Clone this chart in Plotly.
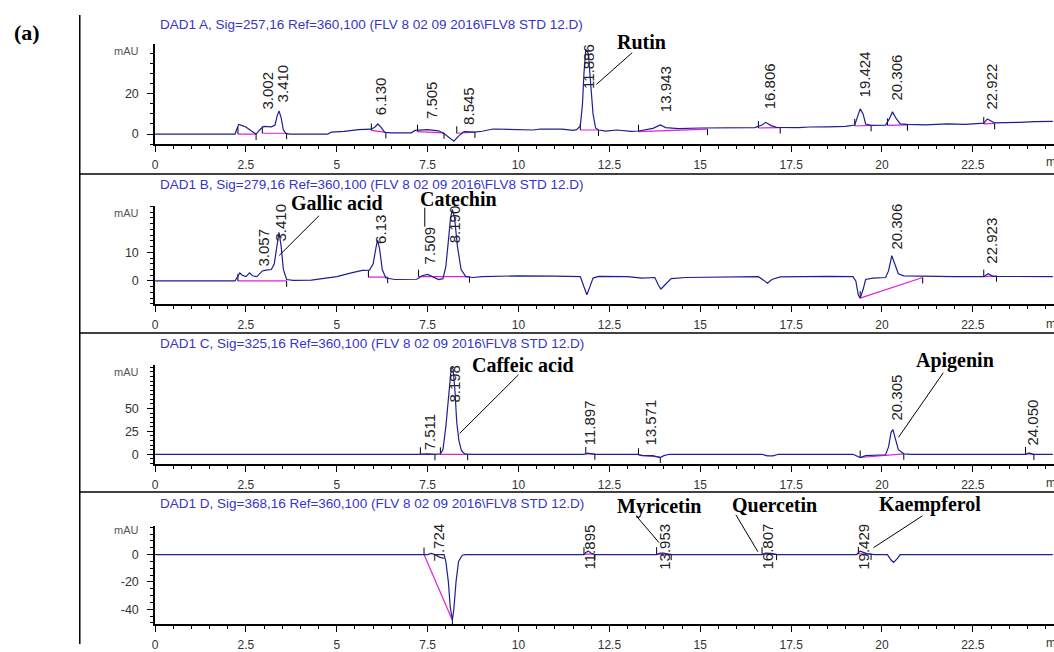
import plotly.graph_objects as go

# ---------------- DATA ----------------
# Channel A, 257 nm
tA = [0, 2.20, 2.25, 2.30, 2.40, 2.50, 2.65, 2.78, 2.90, 3.00, 3.20, 3.30, 3.36, 3.41, 3.47, 3.53, 3.60, 3.70,
      4.75, 4.85, 5.20, 5.60, 5.95, 6.05, 6.13, 6.22, 6.32, 6.50, 7.05, 7.15, 7.50, 7.80, 7.95, 8.10, 8.22, 8.35,
      8.50, 8.80, 9.00, 9.30, 10.00, 10.40, 10.60, 11.20, 11.50, 11.60, 11.70, 11.76, 11.80, 11.85, 11.92, 11.98,
      12.05, 12.12, 12.20, 12.40, 12.70, 13.10, 13.30, 13.70, 13.90, 14.05, 14.40, 15.00, 16.50, 16.70, 16.80,
      16.95, 17.10, 17.70, 18.00, 18.50, 19.00, 19.25, 19.33, 19.40, 19.48, 19.55, 19.70, 20.10, 20.20, 20.29,
      20.38, 20.50, 20.70, 21.20, 21.80, 22.30, 22.80, 22.90, 23.00, 23.10, 23.80, 24.20, 24.70]
sA = [0, 0, 2.5, 4.8, 4.2, 3.5, 1.5, 0, 2.5, 3.8, 3.6, 4.5, 9, 11.5, 8, 2, 0.3, 0,
      0, 1, 1.3, 2.2, 2.4, 3.5, 5.0, 3.3, 0.8, 0.6, 0.6, 1.8, 2.2, 1.6, 0.3, -2, -3.5, -1,
      1.2, 1.0, 1.4, 2.5, 2.3, 2.0, 2.5, 2.4, 1.8, 2.2, 4, 15, 30, 42, 40, 25,
      10, 3, 2, 1.5, 2, 1.3, 1.5, 2.8, 4.5, 3.2, 2.7, 3.0, 3.2, 4.5, 5.8,
      4.2, 3.3, 3.2, 3.5, 3.6, 3.8, 4.5, 9, 12.5, 10, 5, 4.3, 4.4, 7.5, 11,
      8, 5, 4.8, 4.6, 5, 4.8, 5.4, 7.5, 6.5, 5.5, 5.8, 6.2, 6.3]

# Channel B, 279 nm
tB = [0, 2.20, 2.27, 2.33, 2.40, 2.50, 2.60, 2.68, 2.80, 2.95, 3.05, 3.20, 3.28, 3.35, 3.41, 3.47, 3.53, 3.62,
      3.80, 4.30, 4.60, 5.00, 5.40, 5.70, 5.90, 6.00, 6.07, 6.12, 6.18, 6.25, 6.35, 6.60, 7.20, 7.35, 7.50,
      7.65, 7.80, 7.92, 8.00, 8.07, 8.13, 8.18, 8.24, 8.32, 8.42, 8.55, 8.75, 9.00, 10.0, 11.0, 11.70, 11.80,
      11.88, 11.95, 12.05, 12.20, 13.00, 13.40, 13.75, 13.85, 13.92, 14.02, 14.20, 14.60, 15.50, 16.60, 16.75,
      16.85, 16.97, 17.20, 18.50, 19.20, 19.28, 19.35, 19.40, 19.48, 19.55, 19.75, 20.10, 20.18, 20.27, 20.35,
      20.45, 20.60, 21.20, 22.00, 22.80, 22.92, 23.05, 24.00, 24.70]
sB = [0, 0, 1.5, 2.8, 2.0, 1.5, 2.8, 1.8, 1.5, 3.5, 3.8, 4, 6, 13, 17.0, 12, 4, 0.5,
      0.2, 0.3, 0.8, 1.5, 2.8, 3.7, 3.8, 6, 11, 14.3, 11, 4, 1.0, 0.5, 0.6, 1.8, 2.3,
      1.5, 0.5, 0.8, 5, 14, 22, 25, 22, 12, 4, 1.5, 1.2, 1.5, 1.8, 1.7, 1.5, -2,
      -4.8, -2.5, 1.0, 1.6, 1.5, 1.0, 1.2, -1.5, -2.8, -1.5, 0.8, 1.2, 1.4, 1.5, 0.2,
      -0.8, 0.5, 1.4, 1.6, 1.5, 0, -5, -6, -3, 0.5, 1.0, 1.2, 3.5, 8.8, 6,
      2.5, 1.8, 1.6, 1.5, 1.5, 2.5, 1.6, 1.5, 1.5]

# Channel C, 325 nm
tC = [0, 2.45, 2.50, 2.55, 7.20, 7.50, 7.70, 7.85, 7.92, 8.00, 8.05, 8.10, 8.15, 8.20, 8.25, 8.30, 8.36, 8.43,
      8.52, 8.70, 11.80, 11.90, 12.00, 12.10, 13.30, 13.40, 13.70, 13.90, 14.00, 14.15, 16.70, 16.85, 17.00,
      17.15, 19.20, 19.30, 19.40, 19.55, 20.00, 20.10, 20.18, 20.25, 20.30, 20.38, 20.45, 20.60, 20.80, 23.95,
      24.05, 24.15, 24.70]
sC = [0, 0, -0.8, 0, 0, 0.5, 0, 0.5, 5, 30, 55, 80, 95, 93, 70, 35, 15, 4,
      0.5, 0, 0, 1.2, 0.3, 0, 0, -1.5, -1.5, -3.5, -1.5, 0, 0, -1.8, -1.8,
      0, 0, -2, -3.5, -1.5, -1, -0.5, 8, 24, 27, 16, 5, 0.5, 0, 0,
      1.5, 0, 0]

# Channel D, 368 nm
tD = [0, 7.50, 7.60, 7.70, 7.95, 8.00, 8.07, 8.12, 8.18, 8.22, 8.28, 8.35, 8.45, 8.55, 11.80, 11.85, 11.92,
      12.00, 12.10, 13.80, 13.90, 14.00, 14.15, 16.70, 16.80, 16.95, 17.10, 19.30, 19.40, 19.50, 19.60, 19.80,
      20.15, 20.25, 20.32, 20.42, 20.50, 24.70]
sD = [0, 0, 0.8, 0, 0, -5, -20, -38, -48, -40, -20, -5, -0.5, 0, 0, 1.5, 2.5,
      1, 0, 0, 1, 1, 0, 0, 1, 0.8, 0, 0, 2.5, 1.5, 0.5, 0,
      0, -4, -5.8, -3, 0, 0]

# Integration baselines: (t_start, y_start, t_end, y_end)
baseA = [(2.28, 0.0, 2.78, 0.0), (2.95, 0.4, 3.62, 0.4), (5.95, 1.8, 6.35, 0.8), (7.22, 1.2, 7.95, 0.6),
         (8.30, 0.4, 8.80, 1.0), (11.70, 2.0, 12.20, 2.0), (13.30, 1.2, 15.20, 2.4), (16.60, 3.0, 17.20, 3.2),
         (19.25, 4.0, 19.70, 4.3), (20.15, 4.3, 20.70, 4.6), (22.80, 5.0, 23.10, 5.3)]
baseB = [(2.28, 0.0, 3.62, 0.0), (5.87, 1.3, 6.40, 1.3), (7.25, 1.5, 8.65, 1.5), (19.40, -6.0, 21.12, 1.2),
         (22.80, 1.5, 23.15, 1.8)]
baseC = [(7.30, 0.0, 7.70, 0.0), (7.85, 0.0, 8.60, 0.0), (11.85, 0.5, 12.10, 0.5), (13.30, -1.0, 13.90, -3.0),
         (19.40, -3.5, 20.60, 0.5), (23.95, 0.5, 24.18, 0.2)]
baseD = [(7.40, 0.0, 8.18, -48.0), (11.80, 0.3, 12.10, 0.3), (13.80, 0.3, 14.20, 0.3), (16.70, 0.3, 17.10, 0.3),
         (19.35, 0.5, 19.70, 0.5)]

# Retention-time labels (as printed)
rtA = ["3.002", "3.410", "6.130", "7.505", "8.545", "11.886", "13.943", "16.806", "19.424", "20.306", "22.922"]
rtB = ["3.057", "3.410", "6.13", "7.509", "8.190", "20.306", "22.923"]
rtC = ["7.511", "8.198", "11.897", "13.571", "20.305", "24.050"]
rtD = ["7.724", "11.895", "13.953", "16.807", "19.429"]

compounds = ["Rutin", "Gallic acid", "Catechin", "Caffeic acid", "Apigenin", "Myricetin", "Quercetin", "Kaempferol"]

titles = ["DAD1 A, Sig=257,16 Ref=360,100 (FLV 8 02 09 2016\\FLV8 STD 12.D)",
          "DAD1 B, Sig=279,16 Ref=360,100 (FLV 8 02 09 2016\\FLV8 STD 12.D)",
          "DAD1 C, Sig=325,16 Ref=360,100 (FLV 8 02 09 2016\\FLV8 STD 12.D)",
          "DAD1 D, Sig=368,16 Ref=360,100 (FLV 8 02 09 2016\\FLV8 STD 12.D)"]
ytickvals = [[0, 20], [0, 10], [0, 25, 50], [-40, -20, 0]]
xticks = [0, 2.5, 5, 7.5, 10, 12.5, 15, 17.5, 20, 22.5]

# ---------------- LAYOUT / STYLE ----------------
W, H = 1054, 652
YS = 1 / 0.9937          # small vertical calibration of the rendered page
def px(x): return x / W
def py(y): return 1 - (y * YS) / H

NAVY = "#1e1e96"
MAG = "#e020d8"
TBLUE = "#3535c8"
SANS = "Liberation Sans, Arial, sans-serif"
SERIF = "Liberation Serif, Times New Roman, serif"

X0PX = 152.5
XMAX = (W - X0PX) / 36.45

panels = [
    dict(top=44, bot=145, yr=[-5, 44.8], minor=5, ty=25, my=51, ly=163),
    dict(top=207.7, bot=306, yr=[-8.1, 26], minor=2, ty=186, my=214, ly=326),
    dict(top=367.7, bot=466.7, yr=[-10.5, 97], minor=5, ty=346, my=374, ly=486),
    dict(top=529, bot=627.7, yr=[-50.7, 21], minor=5, ty=507, my=533, ly=647),
]

series = [(tA, sA, baseA, rtA), (tB, sB, baseB, rtB), (tC, sC, baseC, rtC), (tD, sD, baseD, rtD)]

# label placements (x shift px, label-bottom pixel y)
label_pos = [
    [(3, 112), (3, 105), (2, 118), (3, 122), (3, 128), (2, 92), (3, 115), (3, 112), (3, 100), (3, 103), (3, 112)],
    [(-3, 270), (2, 245), (2, 247), (1, 268), (2, 247), (3, 253), (3, 267)],
    [(1, 455), (2, 407), (2, 450), (2, 450), (3, 425), (3, 450)],
    [(3, 567), (2, 575), (2, 575), (2, 575), (2, 575)],
]

comp_pos = [
    (640, 42, 631, 53, 595, 85),
    (335, 204, 317, 217, 277, 257),
    (457, 200, 423, 209, 423, 228),
    (521, 367, 517, 377, 458, 436),
    (955, 363, 943, 375, 898, 440),
    (658, 510, 635, 519, 658, 546),
    (774, 508, 735, 518, 757, 555),
    (930, 508, 922, 519, 873, 551),
]

fig = go.Figure()
annotations = []
shapes = []
layout = {}

for i, (p, (t, s, base, rts)) in enumerate(zip(panels, series)):
    n = i + 1
    xa = "x" if n == 1 else f"x{n}"
    ya = "y" if n == 1 else f"y{n}"
    xkey = "xaxis" if n == 1 else f"xaxis{n}"
    ykey = "yaxis" if n == 1 else f"yaxis{n}"
    mau_per_px = (p["yr"][1] - p["yr"][0]) / (p["bot"] - p["top"])

    bx, by = [], []
    for (t0, y0, t1, y1) in base:
        bx += [t0, t1, None]
        by += [y0, y1, None]
    fig.add_trace(go.Scatter(x=bx, y=by, mode="lines", line=dict(color=MAG, width=1.2),
                             xaxis=xa, yaxis=ya, hoverinfo="skip", showlegend=False))
    kx, ky = [], []
    for (t0, y0, t1, y1) in base:
        kx += [t0, t0, None, t1, t1, None]
        ky += [y0, y0 + 7 * mau_per_px, None, y1, y1 - 6 * mau_per_px, None]
    fig.add_trace(go.Scatter(x=kx, y=ky, mode="lines", line=dict(color="black", width=1),
                             xaxis=xa, yaxis=ya, hoverinfo="skip", showlegend=False))
    fig.add_trace(go.Scatter(x=t, y=s, mode="lines", line=dict(color=NAVY, width=1.2),
                             xaxis=xa, yaxis=ya, hoverinfo="skip", showlegend=False))

    layout[xkey] = dict(domain=[px(X0PX), 1], range=[0, XMAX], anchor=ya, showline=True,
                        linecolor="black", linewidth=1.5, ticks="outside", ticklen=6, tickwidth=1.2,
                        tickcolor="black", tickmode="array", tickvals=xticks,
                        ticktext=[f"{v:g}" for v in xticks], ticklabelstandoff=3,
                        minor=dict(dtick=0.5, tick0=0, ticks="outside", ticklen=3, tickwidth=1,
                                   tickcolor="black"),
                        showgrid=False, zeroline=False,
                        tickfont=dict(family=SANS, size=12, color="#333333"))
    layout[ykey] = dict(domain=[py(p["bot"]), py(p["top"])], range=p["yr"], anchor=xa, showline=True,
                        linecolor="black", linewidth=1.5, ticks="outside", ticklen=6, tickwidth=1.2,
                        tickcolor="black", tickmode="array", tickvals=ytickvals[i],
                        ticktext=[str(v) for v in ytickvals[i]], ticklabelstandoff=6,
                        minor=dict(dtick=p["minor"], tick0=0, ticks="outside", ticklen=3, tickwidth=1,
                                   tickcolor="black"),
                        showgrid=False, zeroline=False,
                        tickfont=dict(family=SANS, size=12.5, color="#333333"))

    annotations.append(dict(text=titles[i], x=px(155), y=py(p["ty"]), xref="paper", yref="paper",
                            xanchor="left", yanchor="middle", showarrow=False,
                            font=dict(family=SANS, size=13.5, color=TBLUE)))
    annotations.append(dict(text="mAU", x=px(138), y=py(p["my"]), xref="paper", yref="paper",
                            xanchor="right", yanchor="middle", showarrow=False,
                            font=dict(family=SANS, size=11, color="#555555")))
    annotations.append(dict(text="min", x=px(1044), y=py(p["ly"]), xref="paper", yref="paper",
                            xanchor="left", yanchor="middle", showarrow=False,
                            font=dict(family=SANS, size=12, color="#333333")))
    for rt, (dx, yb) in zip(rts, label_pos[i]):
        annotations.append(dict(text=rt, x=float(rt), xref=xa, y=py(yb), yref="paper", xshift=dx,
                                textangle=-90, xanchor="center", yanchor="bottom", showarrow=False,
                                font=dict(family=SANS, size=15, color="#222222")))

for name, (cx, cy, lx0, ly0, lx1, ly1) in zip(compounds, comp_pos):
    annotations.append(dict(text=f"<b>{name}</b>", x=px(cx), y=py(cy), xref="paper", yref="paper",
                            xanchor="center", yanchor="middle", showarrow=False,
                            font=dict(family=SERIF, size=20, color="black")))
    shapes.append(dict(type="line", xref="paper", yref="paper", x0=px(lx0), y0=py(ly0),
                       x1=px(lx1), y1=py(ly1), line=dict(color="black", width=1)))

shapes.append(dict(type="line", xref="paper", yref="paper", x0=px(77), y0=py(15), x1=px(77), y1=0,
                   line=dict(color="black", width=1.5)))
for yy in [175, 335, 495]:
    shapes.append(dict(type="line", xref="paper", yref="paper", x0=px(77), y0=py(yy), x1=1, y1=py(yy),
                       line=dict(color="black", width=1.5)))

annotations.append(dict(text="<b>(a)</b>", x=px(24), y=py(33), xref="paper", yref="paper",
                        xanchor="center", yanchor="middle", showarrow=False,
                        font=dict(family=SERIF, size=22, color="black")))

fig.update_layout(width=W, height=H, margin=dict(l=0, r=0, t=0, b=0), paper_bgcolor="white",
                  plot_bgcolor="white", showlegend=False, annotations=annotations, shapes=shapes,
                  **layout)

page_fix = (
    "var hs=[document.documentElement, document.body];"
    "hs.forEach(function(e){e.style.margin='0';e.style.padding='0';e.style.overflow='hidden';"
    "e.style.width='1054px';e.style.height='652px';});"
    "var g=document.getElementById('{plot_id}');"
    "if(g&&g.parentElement){g.parentElement.style.height='652px';g.parentElement.style.overflow='hidden';"
    "g.parentElement.style.lineHeight='0';}"
)

fig.write_html("out.html", config={"displayModeBar": False}, post_script=page_fix)
